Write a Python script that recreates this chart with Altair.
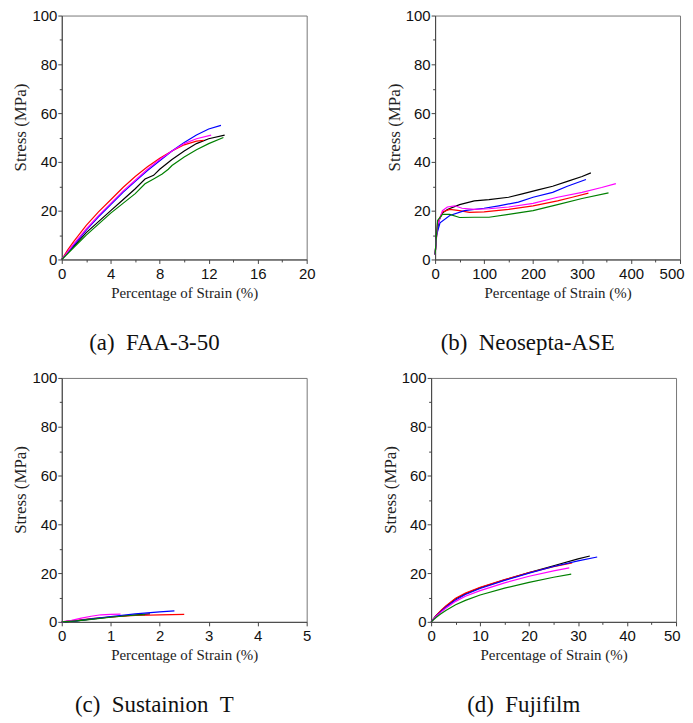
import altair as alt
import pandas as pd

SAMPLES = ["S1", "S2", "S3", "S4", "S5"]
COLORS = ["#000000", "#ff0000", "#0000ff", "#ff00ff", "#008000"]

# (a) FAA-3-50
a_black_x = [0, 1, 2, 3, 4, 5, 6, 6.8, 7.5, 8, 9, 10, 11, 12, 13.3]
a_black_y = [0, 5.5, 11, 15.5, 20, 24.5, 29, 33, 34.5, 37, 41, 44.5, 47.5, 49.5, 51]
a_red_x = [0, 0.5, 1, 2, 3, 4, 5, 6, 7, 8, 9, 10, 11, 11.6]
a_red_y = [0, 4, 7.5, 14, 19.5, 24.5, 29.5, 34, 38, 41.5, 44.5, 47, 48.5, 48.8]
a_blue_x = [0, 1, 2, 3, 4, 5, 6, 7, 8, 9, 10, 11, 12, 13]
a_blue_y = [0, 6, 12, 17.5, 22.5, 27.5, 32, 36.5, 40.5, 44.5, 48, 51, 53.5, 55]
a_mag_x = [0, 1, 2, 3, 4, 5, 6, 7, 8, 9, 10, 11, 12.2]
a_mag_y = [0, 6.5, 12.5, 18, 23, 28, 32.5, 37, 41, 44.5, 47.5, 49.5, 51]
a_green_x = [0, 1, 2, 3, 4, 5, 6, 6.8, 7.5, 8.2, 8.7, 9, 10, 11, 12, 13.2]
a_green_y = [0, 5, 10, 14.5, 19, 23, 27, 31, 33, 35, 37, 38.5, 42, 45, 47.5, 50]

# (b) Neosepta-ASE
b_black_x = [0, 3, 8, 15, 25, 50, 80, 110, 150, 180, 210, 240, 270, 300, 318]
b_black_y = [2, 10, 16, 19, 20.5, 22.5, 24, 24.5, 25.5, 27, 28.5, 30, 32, 34, 35.5]
b_red_x = [0, 5, 15, 30, 50, 70, 100, 150, 200, 250, 280, 313]
b_red_y = [2, 15, 19.5, 20.5, 20, 19.3, 19.5, 20.5, 22, 24, 25.5, 27.2]
b_blue_x = [0, 3, 10, 30, 60, 100, 130, 170, 200, 240, 270, 308]
b_blue_y = [2, 10, 15, 18, 20, 21, 22, 23.5, 25.5, 27.5, 30, 32.8]
b_mag_x = [0, 5, 15, 25, 40, 55, 80, 110, 150, 200, 250, 300, 340, 369]
b_mag_y = [2, 14, 20, 21.5, 22, 21, 20.5, 20.8, 21.5, 23, 25.5, 27.5, 29.5, 31.1]
b_green_x = [0, 5, 15, 30, 50, 80, 110, 150, 200, 250, 300, 354]
b_green_y = [2, 16, 18.5, 18.5, 17.2, 17.3, 17.3, 18.5, 20, 22.5, 25, 27.3]

# (c) Sustainion T
c_black_x = [0, 0.3, 0.6, 1.0, 1.4, 1.8]
c_black_y = [0, 0.4, 1.1, 2.0, 2.7, 3.3]
c_red_x = [0, 0.3, 0.6, 1.0, 1.5, 2.0, 2.5]
c_red_y = [0, 0.6, 1.3, 2.0, 2.6, 2.9, 3.1]
c_blue_x = [0, 0.3, 0.6, 1.0, 1.5, 2.0, 2.3]
c_blue_y = [0, 0.4, 1.2, 2.2, 3.3, 4.1, 4.5]
c_mag_x = [0, 0.2, 0.4, 0.6, 0.8, 1.0, 1.2]
c_mag_y = [0, 0.6, 1.5, 2.3, 2.9, 3.1, 3.2]
c_green_x = [0, 0.3, 0.6, 1.0, 1.4, 1.7]
c_green_y = [0, 0.4, 1.0, 1.9, 2.6, 3.0]

# (d) Fujifilm
d_black_x = [0, 1, 2, 3, 5, 7, 10, 15, 20, 25, 30, 32.4]
d_black_y = [0, 2.5, 4.5, 6.3, 9.5, 11.5, 14, 17.2, 20.2, 23, 25.8, 27]
d_red_x = [0, 1, 2, 3, 5, 7, 10, 15, 20, 25, 28.8]
d_red_y = [0, 2.6, 4.7, 6.5, 9.7, 11.8, 14.2, 17.3, 20.2, 22.6, 24.2]
d_blue_x = [0, 1, 2, 3, 5, 7, 10, 15, 20, 25, 30, 33.9]
d_blue_y = [0, 2.3, 4.2, 6, 9, 11.2, 13.7, 17, 20, 22.7, 25, 26.6]
d_mag_x = [0, 1, 2, 3, 5, 7, 10, 15, 20, 25, 28.2]
d_mag_y = [0, 2.2, 4, 5.6, 8.4, 10.5, 12.8, 16, 18.7, 20.9, 22.1]
d_green_x = [0, 1, 2, 3, 5, 7, 10, 15, 20, 25, 28.6]
d_green_y = [0, 1.8, 3.3, 4.7, 7, 8.8, 11, 13.8, 16.2, 18.3, 19.6]

W, H = 246, 245
SP = "\u00a0\u00a0"


def frame(series):
    rows = []
    for name, xs, ys in series:
        for i, (x, y) in enumerate(zip(xs, ys)):
            rows.append({"s": name, "x": x, "y": y, "i": i})
    return pd.DataFrame(rows)


def panel(series, xmax, xstep, caption, squeeze_last=False):
    df = frame(series)
    minor = xstep / 2
    xvals = [round(k * minor, 6) for k in range(int(round(xmax / minor)) + 1)]
    yvals = list(range(0, 101, 10))
    xs_test = f"abs(datum.value / {xstep} - round(datum.value / {xstep})) < 1e-6"
    ys_test = "datum.value % 20 == 0"
    extra = {}
    if squeeze_last:
        last = f"datum.value == {xmax}"
        extra["labelAlign"] = {"condition": {"test": last, "value": "right"}, "value": "center"}
        extra["labelOffset"] = {"condition": {"test": last, "value": 4}, "value": 0}
    xaxis = alt.Axis(
        values=xvals,
        format="d",
        title="Percentage of Strain (%)",
        titleFont="Liberation Serif",
        titleFontSize=15,
        titleFontWeight="normal",
        titleColor="#222",
        titlePadding=4,
        labelFont="Liberation Sans",
        labelFontSize=15,
        labelColor="#111",
        labelPadding=3,
        labelExpr=f"{xs_test} ? datum.label : ''",
        labelOverlap=False,
        labelFlush=False,
        grid=False,
        domainColor="#444",
        tickColor="#444",
        tickSize={"condition": {"test": xs_test, "value": 4}, "value": 2.5},
        **extra,
    )
    yaxis = alt.Axis(
        values=yvals,
        title="Stress (MPa)",
        titleFont="Liberation Serif",
        titleFontSize=17,
        titleFontWeight="normal",
        titleColor="#222",
        titlePadding=2,
        titleY=112,
        labelFont="Liberation Sans",
        labelFontSize=15,
        labelColor="#111",
        labelPadding=1,
        labelExpr=f"{ys_test} ? datum.label : ''",
        labelOverlap=False,
        grid=False,
        domainColor="#444",
        tickColor="#444",
        tickSize={"condition": {"test": ys_test, "value": 4}, "value": 2.5},
    )
    return (
        alt.Chart(df)
        .mark_line(strokeWidth=1.2)
        .encode(
            x=alt.X("x:Q", scale=alt.Scale(domain=[0, xmax], nice=False), axis=xaxis),
            y=alt.Y("y:Q", scale=alt.Scale(domain=[0, 100], nice=False), axis=yaxis),
            color=alt.Color("s:N", scale=alt.Scale(domain=SAMPLES, range=COLORS), legend=None),
            order="i:Q",
            detail="s:N",
        )
        .properties(
            width=W,
            height=H,
            title=alt.TitleParams(
                caption,
                orient="bottom",
                anchor="middle",
                frame="group",
                dx=-30,
                offset=32,
                font="Liberation Serif",
                fontSize=23,
                fontWeight="normal",
                color="#111",
            ),
        )
    )


pa = panel([
    ("S1", a_black_x, a_black_y), ("S2", a_red_x, a_red_y), ("S3", a_blue_x, a_blue_y),
    ("S4", a_mag_x, a_mag_y), ("S5", a_green_x, a_green_y)], 20, 4, "(a)" + SP + "FAA-3-50")
pb = panel([
    ("S1", b_black_x, b_black_y), ("S2", b_red_x, b_red_y), ("S3", b_blue_x, b_blue_y),
    ("S4", b_mag_x, b_mag_y), ("S5", b_green_x, b_green_y)], 500, 100, "(b)" + SP + "Neosepta-ASE",
    squeeze_last=True)
pc = panel([
    ("S1", c_black_x, c_black_y), ("S2", c_red_x, c_red_y), ("S3", c_blue_x, c_blue_y),
    ("S4", c_mag_x, c_mag_y), ("S5", c_green_x, c_green_y)], 5, 1, "(c)" + SP + "Sustainion" + SP + "T")
pd_ = panel([
    ("S1", d_black_x, d_black_y), ("S2", d_red_x, d_red_y), ("S3", d_blue_x, d_blue_y),
    ("S4", d_mag_x, d_mag_y), ("S5", d_green_x, d_green_y)], 50, 10, "(d)" + SP + "Fujifilm",
    squeeze_last=True)

chart = (
    alt.vconcat(
        alt.hconcat(pa, pb, spacing=69),
        alt.hconcat(pc, pd_, spacing=69),
        spacing=14,
    )
    .properties(padding={"left": 3, "top": -2, "right": 0, "bottom": 0}, background="white")
    .configure_view(stroke="#777", strokeWidth=1)
)

chart.save("out.html", embed_options={"renderer": "svg", "actions": False})
